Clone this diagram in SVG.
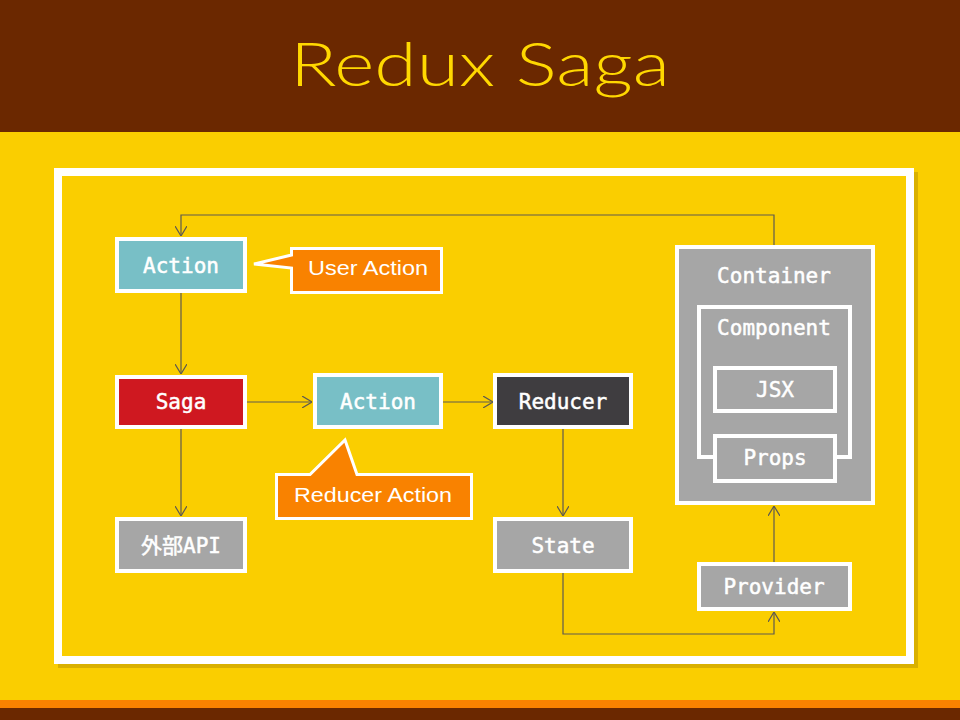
<svg xmlns="http://www.w3.org/2000/svg" width="960" height="720" viewBox="0 0 960 720">
<style>
.node{stroke:#fff;stroke-width:4}
.lbl{font-family:"DejaVu Sans Mono","Noto Sans CJK JP",monospace;font-size:21px;fill:#fff;stroke:#fff;stroke-width:0.5;text-anchor:middle}
.call{fill:#F98200;stroke:#fff;stroke-width:3;stroke-linejoin:miter}
.ctxt{font-family:"Liberation Sans",sans-serif;font-size:20px;fill:#fff;text-anchor:middle}
.con{fill:none;stroke:#5E5A50;stroke-width:1.2}
</style>
<defs>
<marker id="arr" viewBox="0 0 10 12" refX="10" refY="6" markerWidth="10" markerHeight="12" markerUnits="userSpaceOnUse" orient="auto">
<path d="M0,0 L10,6 L0,12" fill="none" stroke="#5E5A50" stroke-width="1.2"/>
</marker>
</defs>
<rect x="0" y="0" width="960" height="720" fill="#FACE00"/>
<rect x="0" y="0" width="960" height="132" fill="#6B2800"/>
<rect x="0" y="700" width="960" height="8" fill="#F98200"/>
<rect x="0" y="708" width="960" height="12" fill="#6B2800"/>
<text x="480" y="86" font-family="Lato,'Liberation Sans',sans-serif" font-weight="300" font-size="62" fill="#FFD800" text-anchor="middle" textLength="380" lengthAdjust="spacingAndGlyphs">Redux Saga</text>
<rect x="58" y="172" width="860" height="496" fill="#D9B000"/>
<rect x="58" y="172" width="852" height="488" fill="#FACE00" stroke="#fff" stroke-width="8"/>

<g id="connectors">
<path class="con" d="M774,245 V215 H181 V236" marker-end="url(#arr)"/>
<path class="con" d="M181,293 V374" marker-end="url(#arr)"/>
<path class="con" d="M246,402 H312" marker-end="url(#arr)"/>
<path class="con" d="M443,402 H493" marker-end="url(#arr)"/>
<path class="con" d="M181,429 V516" marker-end="url(#arr)"/>
<path class="con" d="M563,429 V516" marker-end="url(#arr)"/>
<path class="con" d="M563,573 V634 H774 V612" marker-end="url(#arr)"/>
<path class="con" d="M774,562 V506" marker-end="url(#arr)"/>
</g>

<g id="action-top">
<rect class="node" x="117" y="239" width="128" height="52" fill="#78BFC6"/>
<text class="lbl" x="181" y="273">Action</text>
</g>
<g id="user-action">
<path class="call" d="M291.5,248.5 H441.5 V292.5 H291.5 V268 L254,264 L291.5,255 Z"/>
<text class="ctxt" x="368" y="275" textLength="120" lengthAdjust="spacingAndGlyphs">User Action</text>
</g>
<g id="saga">
<rect class="node" x="117" y="377" width="128" height="50" fill="#CF1820"/>
<text class="lbl" x="181" y="409">Saga</text>
</g>
<g id="action-mid">
<rect class="node" x="315" y="375" width="126" height="52" fill="#78BFC6"/>
<text class="lbl" x="378" y="409">Action</text>
</g>
<g id="reducer-action">
<path class="call" d="M276.5,474.5 H310 L345,440 L357,474.5 H471.5 V518.5 H276.5 Z"/>
<text class="ctxt" x="373" y="502" textLength="158" lengthAdjust="spacingAndGlyphs">Reducer Action</text>
</g>
<g id="reducer">
<rect class="node" x="495" y="375" width="136" height="52" fill="#3F3D40"/>
<text class="lbl" x="563" y="409">Reducer</text>
</g>
<g id="external-api">
<rect class="node" x="117" y="519" width="128" height="52" fill="#A6A6A6"/>
<text class="lbl" x="181" y="553">外部API</text>
</g>
<g id="state">
<rect class="node" x="495" y="519" width="136" height="52" fill="#A6A6A6"/>
<text class="lbl" x="563" y="553">State</text>
</g>
<g id="container">
<rect class="node" x="677" y="247" width="196" height="256" fill="#A6A6A6"/>
<text class="lbl" x="774" y="283">Container</text>
</g>
<g id="component">
<rect x="699" y="307" width="151" height="150" fill="none" stroke="#fff" stroke-width="4"/>
<text class="lbl" x="774" y="335">Component</text>
</g>
<g id="jsx">
<rect class="node" x="715" y="368" width="120" height="43" fill="#A6A6A6"/>
<text class="lbl" x="775" y="397">JSX</text>
</g>
<g id="props">
<rect class="node" x="715" y="436" width="120" height="45" fill="#A6A6A6"/>
<text class="lbl" x="775" y="465">Props</text>
</g>
<g id="provider">
<rect class="node" x="699" y="564" width="151" height="45" fill="#A6A6A6"/>
<text class="lbl" x="774" y="594">Provider</text>
</g>
</svg>
